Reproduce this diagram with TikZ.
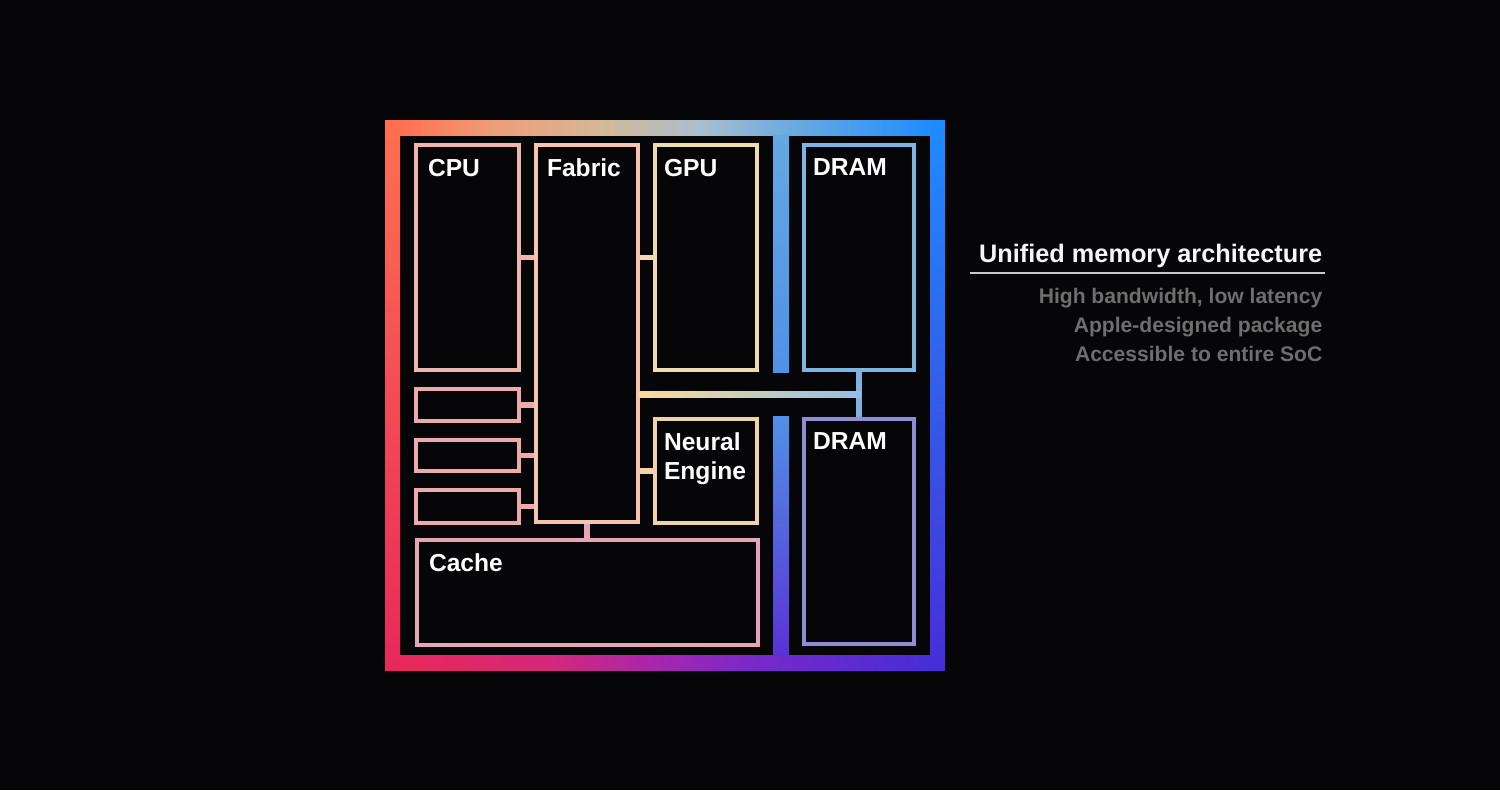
\documentclass[tikz,border=0pt]{standalone}
\usepackage{fontspec}
\setmainfont{Liberation Sans}
\usetikzlibrary{positioning, calc}
\definecolor{SoCOrange}{RGB}{255,112,80}
\definecolor{SoCPeach}{RGB}{238,158,120}
\definecolor{SoCTan}{RGB}{212,184,152}
\definecolor{SoCMist}{RGB}{172,190,204}
\definecolor{SoCBlue}{RGB}{30,140,255}
\definecolor{SoCCrimson}{RGB}{232,40,90}
\definecolor{SoCRose}{RGB}{212,40,122}
\definecolor{SoCMagenta}{RGB}{168,38,172}
\definecolor{SoCPurple}{RGB}{122,40,202}
\definecolor{SoCIndigo}{RGB}{72,45,215}
\definecolor{SoCSteel}{RGB}{100,168,226}
\definecolor{SoCSky}{RGB}{80,145,230}
\definecolor{SoCViolet}{RGB}{90,50,212}
\definecolor{CpuPink}{RGB}{238,182,172}
\definecolor{FabPeach}{RGB}{245,196,176}
\definecolor{GpuCream}{RGB}{240,218,178}
\definecolor{NeuCream}{RGB}{242,210,168}
\definecolor{DramBlue}{RGB}{125,180,225}
\definecolor{DramLilac}{RGB}{145,140,212}
\definecolor{CacheRose}{RGB}{228,165,182}
\definecolor{SmallPink}{RGB}{236,170,175}
\definecolor{BusYellow}{RGB}{250,220,150}
\definecolor{BusBlue}{RGB}{150,190,228}
\definecolor{TxtGray}{RGB}{110,110,110}
\definecolor{RuleGray}{RGB}{200,200,200}
\definecolor{BgBlack}{RGB}{6,5,7}
\pgfdeclarehorizontalshading{topband}{100bp}{color(0bp)=(SoCOrange); color(25bp)=(SoCOrange);
  color(34bp)=(SoCPeach); color(44bp)=(SoCTan); color(53bp)=(SoCMist);
  color(63bp)=(SoCSteel); color(75bp)=(SoCBlue); color(100bp)=(SoCBlue)}
\pgfdeclarehorizontalshading{bottomband}{100bp}{color(0bp)=(SoCCrimson); color(25bp)=(SoCCrimson);
  color(39bp)=(SoCRose); color(49bp)=(SoCMagenta); color(58bp)=(SoCPurple);
  color(75bp)=(SoCIndigo); color(100bp)=(SoCIndigo)}

\begin{document}
\begin{tikzpicture}[
          blk/.style={rectangle, draw=#1, fill=BgBlack, line width=0.95pt,
                      inner sep=0pt},
          lbl/.style={anchor=north west, inner sep=0pt, text=white,
                      font=\fontsize{7}{8.2}\selectfont\bfseries, align=left},
          link/.style={line width=1.6pt, draw=#1},
          head/.style={inner sep=0pt, text=white!96!black,
                       font=\fontsize{7.2}{8.6}\selectfont\bfseries},
          sub/.style={inner sep=0pt, text=TxtGray, align=right,
                      font=\fontsize{6}{8.25}\selectfont\bfseries}
        ]
        \fill[BgBlack] (0,0) rectangle (15,7.9);
        \useasboundingbox (0,0) rectangle (15,7.9);

        % Package frame
        \shade[top color=SoCOrange, bottom color=SoCCrimson] (3.85,1.20) rectangle (4.00,6.70);
        \shade[top color=SoCBlue, bottom color=SoCIndigo] (9.30,1.20) rectangle (9.45,6.70);
        \shade[shading=topband] (4.00,6.55) rectangle (9.30,6.70);
        \shade[shading=bottomband] (4.00,1.20) rectangle (9.30,1.35);
        \shade[top color=SoCSteel, bottom color=SoCSky] (7.73,4.18) rectangle (7.89,6.55);
        \shade[top color=SoCSky, bottom color=SoCViolet] (7.73,1.35) rectangle (7.89,3.74);

        % SoC blocks
        \node[blk=CpuPink, minimum width=1.03cm, minimum height=2.25cm] (cpu) at (4.675,5.325) {};
        \node[blk=FabPeach, minimum width=1.02cm, minimum height=3.77cm] (fab) at (5.87,4.565) {};
        \node[blk=GpuCream, minimum width=1.02cm, minimum height=2.25cm] (gpu) at (7.06,5.325) {};
        \node[blk=NeuCream, minimum width=1.02cm, minimum height=1.04cm] (neu) at (7.06,3.19) {};
        \node[blk=SmallPink, minimum width=1.03cm, minimum height=0.32cm] (sb1) at (4.675,3.85) {};
        \node[blk=SmallPink, minimum width=1.03cm, minimum height=0.31cm] (sb2) at (4.675,3.345) {};
        \node[blk=SmallPink, minimum width=1.03cm, minimum height=0.33cm] (sb3) at (4.675,2.835) {};
        \node[blk=CacheRose, minimum width=3.41cm, minimum height=1.05cm] (cache) at (5.875,1.975) {};

        % Memory
        \node[blk=DramBlue, minimum width=1.10cm, minimum height=2.25cm] (dram1) at (8.59,5.325) {};
        \node[blk=DramLilac, minimum width=1.10cm, minimum height=2.25cm] (dram2) at (8.59,2.585) {};
        \coordinate (bus) at ($(dram1.south)!0.5!(dram2.north)$);

        % Labels
        \node[lbl] (cpu-l) at ([shift={(0.13,-0.15)}]cpu.north west) {CPU};
        \node[lbl] (fab-l) at ([shift={(0.12,-0.15)}]fab.north west) {Fabric};
        \node[lbl] (gpu-l) at ([shift={(0.10,-0.15)}]gpu.north west) {GPU};
        \node[lbl] (neu-l) at ([shift={(0.10,-0.15)}]neu.north west) {Neural\\Engine};
        \node[lbl] (dram1-l) at ([shift={(0.10,-0.15)}]dram1.north west) {DRAM};
        \node[lbl] (dram2-l) at ([shift={(0.10,-0.15)}]dram2.north west) {DRAM};
        \node[lbl] (cache-l) at ([shift={(0.13,-0.15)}]cache.north west) {Cache};

        % Links
        \draw[link=CpuPink] (cpu.east) -- (cpu.east -| fab.west);
        \draw[link=GpuCream] (gpu.west) -- (gpu.west -| fab.east);
        \draw[link=NeuCream] (neu.west) -- (neu.west -| fab.east);
        \draw[link=SmallPink] (sb1.east) -- (sb1.east -| fab.west);
        \draw[link=SmallPink] (sb2.east) -- (sb2.east -| fab.west);
        \draw[link=SmallPink] (sb3.east) -- (sb3.east -| fab.west);
        \draw[link=CacheRose] (fab.south) -- (fab.south |- cache.north);
        \draw[link=DramBlue] (dram1.south) -- (dram2.north);
        \shade[left color=BusYellow, right color=BusBlue]
              ($(bus -| fab.east)+(0,-0.026)$) rectangle ($(bus)+(0.02,0.026)$);

        % Caption
        \node[head, anchor=base east] (uma) at (13.23,5.28) {Unified memory architecture};
        \draw[RuleGray, line width=0.6pt] (9.70,5.17) -- (13.25,5.17);
        \node[sub, anchor=north east] (feat) at (13.23,5.02)
              {High bandwidth, low latency\\Apple-designed package\\Accessible to entire SoC};
      \end{tikzpicture}
\end{document}
